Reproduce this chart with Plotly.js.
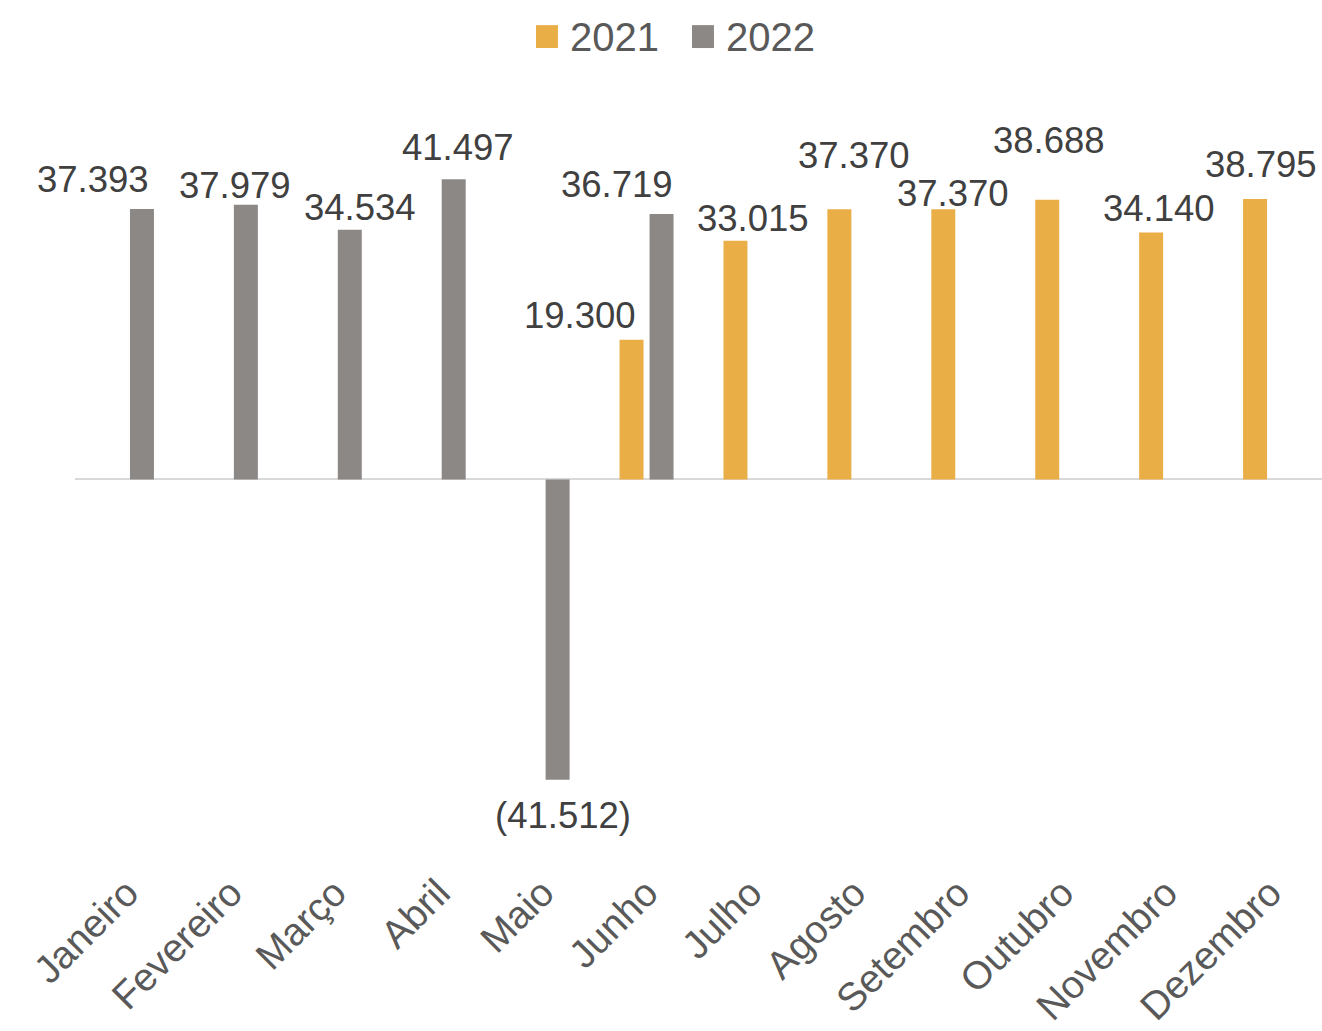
<!DOCTYPE html>
<html>
<head>
<meta charset="utf-8">
<script src="https://cdn.plot.ly/plotly-3.0.1.min.js"></script>
<style>html,body{margin:0;padding:0;background:#fff;}#chart{width:1322px;height:1031px;}</style>
</head>
<body>
<div id="chart"></div>
<script>
var months = ["Janeiro","Fevereiro","Março","Abril","Maio","Junho","Julho","Agosto","Setembro","Outubro","Novembro","Dezembro"];
var seriesNames = ["2021", "2022"];
var seriesColors = ["#EAAE47", "#8C8886"];
var values2021 = [null, null, null, null, null, 19300, 33015, 37370, 37370, 38688, 34140, 38795];
var values2022 = [37393, 37979, 34534, 41497, -41512, 36719, null, null, null, null, null, null];

// label placement offsets (pixels) relative to category centre / bar end
var offsets2021 = [null, null, null, null, null, [-67, 24], [3, 22], [0, 54], [-5, 16], [-13, 59], [-7, 24], [-9, 34]];
var offsets2022 = [[-34, 30], [4, 19], [25, 22], [19, 32], [20, -36], [-30, 29], null, null, null, null, null, null];

function fmt(v) {
  var s = Math.abs(v).toString().replace(/\B(?=(\d{3})+(?!\d))/g, ".");
  return v < 0 ? "(" + s + ")" : s;
}

var FONT = "Liberation Sans, Arial, sans-serif";
var annotations = [];
function addLabels(vals, offs) {
  vals.forEach(function (v, i) {
    if (v === null) return;
    var o = offs[i];
    annotations.push({
      x: months[i], y: v, xref: "x", yref: "y",
      text: fmt(v), showarrow: false,
      xanchor: "center", yanchor: "middle",
      xshift: o[0], yshift: o[1],
      font: {family: FONT, size: 36.5, color: "#404040"}
    });
  });
}
addLabels(values2021, offsets2021);
addLabels(values2022, offsets2022);

// custom legend (larger swatches than Plotly's built-in)
var legendItems = [
  {sx0: 0.3697, sx1: 0.3873, tx: 0.3953},
  {sx0: 0.4948, sx1: 0.5124, tx: 0.5204}
];
var shapes = [];
legendItems.forEach(function (it, k) {
  shapes.push({type: "rect", xref: "paper", yref: "paper",
               x0: it.sx0, x1: it.sx1, y0: 1.148, y1: 1.180,
               fillcolor: seriesColors[k], line: {width: 0}});
  annotations.push({xref: "paper", yref: "paper", x: it.tx, y: 1.164,
                    xanchor: "left", yanchor: "middle", showarrow: false,
                    text: seriesNames[k],
                    font: {family: FONT, size: 40, color: "#595959"}});
});

var traces = [
  {type: "bar", name: seriesNames[0], x: months, y: values2021, marker: {color: seriesColors[0]}},
  {type: "bar", name: seriesNames[1], x: months, y: values2022, marker: {color: seriesColors[1]}}
];

var layout = {
  width: 1322, height: 1031,
  margin: {l: 75, r: 0, t: 154, b: 161},
  paper_bgcolor: "#fff", plot_bgcolor: "#fff",
  barmode: "group", bargap: 0.423, bargroupgap: 0.2,
  showlegend: false,
  xaxis: {type: "category", range: [-0.5, 11.5], autorange: false, tickangle: -45,
          showgrid: false, showline: false, ticks: "", ticklabelstandoff: -9,
          tickfont: {family: FONT, size: 39, color: "#595959"}},
  yaxis: {range: [-54000, 45000], autorange: false, showgrid: false, showticklabels: false, ticks: "",
          zeroline: true, zerolinecolor: "#D9D9D9", zerolinewidth: 2, showline: false},
  shapes: shapes,
  annotations: annotations,
  font: {family: FONT}
};

Plotly.newPlot("chart", traces, layout, {displayModeBar: false, staticPlot: true});
</script>
</body>
</html>
